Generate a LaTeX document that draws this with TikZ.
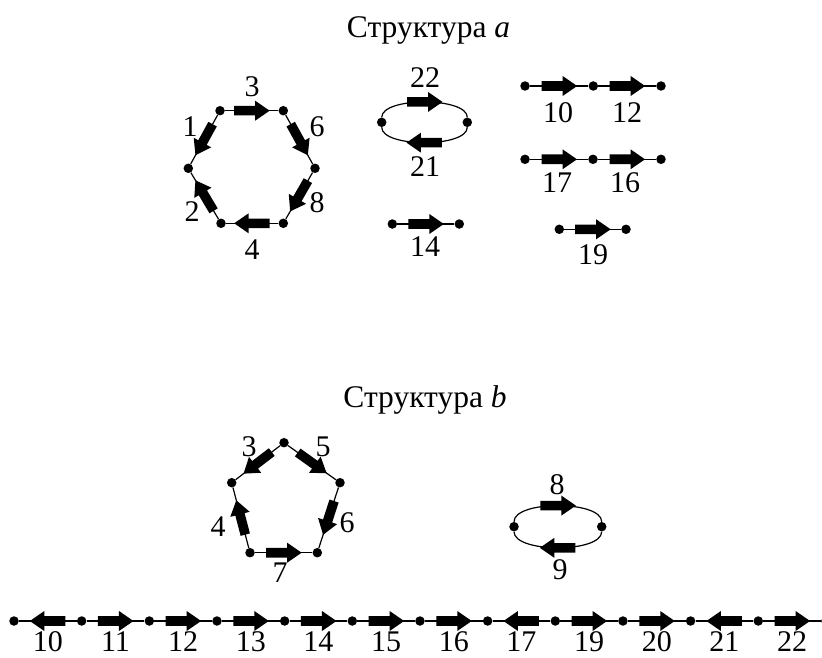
\documentclass[tikz,border=0pt]{standalone}
\usepackage{fontspec}
\setmainfont{Liberation Serif}
\usetikzlibrary{decorations.markings}
\newcommand{\labfont}{\fontsize{30}{36}\selectfont}
\newcommand{\titfont}{\fontsize{31.5}{38}\selectfont}
\tikzset{
  vtx/.style={circle,fill=black,inner sep=0pt,minimum size=9.5pt},
  conn/.style={line width=1.2pt,black},
  blk/.style={conn,postaction={decorate},
    decoration={markings,mark=at position 0.5 with {\fill[black] (-17.5,-4.8) -- (3.5,-4.8) -- (3.5,-10) -- (18,0) -- (3.5,10) -- (3.5,4.8) -- (-17.5,4.8) -- cycle;}}},
  lab/.style={font=\labfont,inner sep=0pt},
  ttl/.style={font=\titfont,inner sep=0pt,anchor=base}
}
\begin{document}
\begin{tikzpicture}[x=1pt,y=-1pt]
\useasboundingbox (0,0) rectangle (822,658);
% ---------- Structure a ----------
\node[ttl] (ta) at (428.5,37.3) {Структура \textit{a}};
% hexagon
\node[vtx] (hTL) at (220,110.7) {};
\node[vtx] (hTR) at (283.3,110.7) {};
\node[vtx] (hR) at (315,168.3) {};
\node[vtx] (hBR) at (283.3,223.3) {};
\node[vtx] (hBL) at (221,223.3) {};
\node[vtx] (hL) at (188.3,168.3) {};
\draw[blk] (hTL) -- (hTR);
\draw[blk] (hTR) -- (hR);
\draw[blk] (hR) -- (hBR);
\draw[blk] (hBR) -- (hBL);
\draw[blk] (hBL) -- (hL);
\draw[blk] (hTL) -- (hL);
\node[lab] (la3) at (252,87) {3};
\node[lab] (la1) at (190,127) {1};
\node[lab] (la6) at (317,127) {6};
\node[lab] (la2) at (192,212) {2};
\node[lab] (la8) at (317,203) {8};
\node[lab] (la4) at (252,250) {4};
% ellipse 22/21
\node[vtx] (eaL) at (381.7,122.3) {};
\node[vtx] (eaR) at (467.3,122.3) {};
\draw[blk] (eaL) .. controls +(0,-25.5) and +(0,-25.5) .. (eaR);
\draw[blk] (eaR) .. controls +(0,25.5) and +(0,25.5) .. (eaL);
\node[lab] (la22) at (425,78) {22};
\node[lab] (la21) at (425,167) {21};
% 14
\node[vtx] (a14s) at (392.3,224) {};
\node[vtx] (a14e) at (459.3,224) {};
\draw[blk] (a14s) -- (a14e);
\node[lab] (la14) at (425,247) {14};
% 10, 12
\node[vtx] (r1a) at (525,86) {};
\node[vtx] (r1b) at (593.3,86) {};
\node[vtx] (r1c) at (661,86) {};
\draw[blk] (r1a) -- (r1b);
\draw[blk] (r1b) -- (r1c);
\node[lab] (la10) at (558,113) {10};
\node[lab] (la12) at (627,113) {12};
% 17, 16
\node[vtx] (r2a) at (525,159.3) {};
\node[vtx] (r2b) at (593,159.3) {};
\node[vtx] (r2c) at (661,159.3) {};
\draw[blk] (r2a) -- (r2b);
\draw[blk] (r2b) -- (r2c);
\node[lab] (la17) at (557,183) {17};
\node[lab] (la16) at (625,183) {16};
% 19
\node[vtx] (r3a) at (559.3,229.3) {};
\node[vtx] (r3b) at (626,229.3) {};
\draw[blk] (r3a) -- (r3b);
\node[lab] (la19) at (593,255) {19};
% ---------- Structure b ----------
\node[ttl] (tb) at (425,407.3) {Структура \textit{b}};
% pentagon
\node[vtx] (pT) at (284,442.7) {};
\node[vtx] (pRU) at (340,482.7) {};
\node[vtx] (pBR) at (317.3,552.7) {};
\node[vtx] (pBL) at (250,552.7) {};
\node[vtx] (pLU) at (231.7,482.7) {};
\draw[blk] (pT) -- (pLU);
\draw[blk] (pT) -- (pRU);
\draw[blk] (pRU) -- (pBR);
\draw[blk] (pBL) -- (pBR);
\draw[blk] (pBL) -- (pLU);
\node[lab] (lb3) at (249,447) {3};
\node[lab] (lb5) at (323,447) {5};
\node[lab] (lb6) at (347,523) {6};
\node[lab] (lb4) at (218,527) {4};
\node[lab] (lb7) at (280,573) {7};
% ellipse 8/9
\node[vtx] (ebL) at (514,526.7) {};
\node[vtx] (ebR) at (601.7,526.7) {};
\draw[blk] (ebL) .. controls +(0,-26.5) and +(0,-26.5) .. (ebR);
\draw[blk] (ebR) .. controls +(0,26.5) and +(0,26.5) .. (ebL);
\node[lab] (lb8) at (557,485) {8};
\node[lab] (lb9) at (560,570) {9};
% bottom chain
\foreach \i in {0,...,12} {
  \node[vtx] (c\i) at ({14+67.66*\i},621) {};
}
\draw[blk] (c1) -- (c0);
\draw[blk] (c1) -- (c2);
\draw[blk] (c2) -- (c3);
\draw[blk] (c3) -- (c4);
\draw[blk] (c4) -- (c5);
\draw[blk] (c5) -- (c6);
\draw[blk] (c6) -- (c7);
\draw[blk] (c8) -- (c7);
\draw[blk] (c8) -- (c9);
\draw[blk] (c9) -- (c10);
\draw[blk] (c11) -- (c10);
\draw[blk] (c11) -- (c12);
\foreach \i/\t in {0/10,1/11,2/12,3/13,4/14,5/15,6/16,7/17,8/19,9/20,10/21,11/22} {
  \node[lab] (lc\i) at ({47.83+67.66*\i},642) {\t};
}
\end{tikzpicture}
\end{document}
